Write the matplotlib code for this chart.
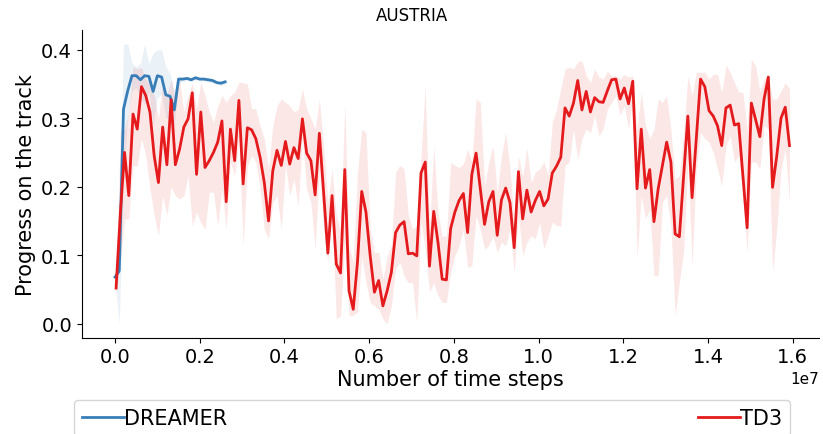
import numpy as np
import matplotlib
matplotlib.use("Agg")
import matplotlib.pyplot as plt

# DREAMER runs: mean progress and the min/max band, one entry per 1e5 steps
dreamer_steps = np.arange(27) * 1e5
dreamer_mean = [0.068, 0.077, 0.313, 0.340, 0.362, 0.362, 0.356, 0.362, 0.361,
                0.339, 0.362, 0.360, 0.334, 0.332, 0.312, 0.357, 0.357, 0.358,
                0.356, 0.359, 0.357, 0.357, 0.356, 0.355, 0.352, 0.351, 0.353]
dreamer_lo = [0.060, 0.000, 0.220, 0.300, 0.340, 0.345, 0.330, 0.320, 0.340,
              0.290, 0.330, 0.335, 0.300, 0.300, 0.290, 0.350, 0.354, 0.355,
              0.353, 0.356, 0.354, 0.354, 0.353, 0.352, 0.349, 0.348, 0.350]
dreamer_hi = [0.075, 0.150, 0.408, 0.408, 0.380, 0.375, 0.380, 0.408, 0.380,
              0.395, 0.400, 0.400, 0.375, 0.365, 0.340, 0.362, 0.360, 0.361,
              0.359, 0.362, 0.360, 0.360, 0.359, 0.358, 0.355, 0.354, 0.356]

# TD3 runs
td3_mean = [
    0.052, 0.160, 0.250, 0.187, 0.306, 0.284, 0.346, 0.333, 0.309, 0.245,
    0.206, 0.287, 0.232, 0.327, 0.232, 0.255, 0.287, 0.299, 0.337, 0.218,
    0.309, 0.228, 0.238, 0.250, 0.265, 0.296, 0.178, 0.284, 0.238, 0.326,
    0.204, 0.286, 0.283, 0.270, 0.243, 0.206, 0.150, 0.223, 0.253, 0.231,
    0.266, 0.233, 0.257, 0.241, 0.299, 0.249, 0.238, 0.188, 0.278, 0.192,
    0.103, 0.187, 0.087, 0.074, 0.225, 0.048, 0.021, 0.090, 0.193, 0.163,
    0.099, 0.046, 0.063, 0.026, 0.048, 0.075, 0.133, 0.144, 0.149, 0.102,
    0.103, 0.099, 0.220, 0.236, 0.084, 0.164, 0.119, 0.065, 0.064, 0.139,
    0.163, 0.180, 0.190, 0.133, 0.218, 0.249, 0.197, 0.145, 0.178, 0.193,
    0.129, 0.181, 0.198, 0.177, 0.111, 0.222, 0.153, 0.195, 0.163, 0.180,
    0.193, 0.172, 0.182, 0.220, 0.230, 0.243, 0.315, 0.303, 0.322, 0.355,
    0.312, 0.339, 0.309, 0.330, 0.324, 0.323, 0.340, 0.356, 0.357, 0.328,
    0.344, 0.321, 0.354, 0.197, 0.284, 0.198, 0.225, 0.149, 0.197, 0.231,
    0.265, 0.236, 0.131, 0.127, 0.216, 0.303, 0.184, 0.270, 0.357, 0.346,
    0.311, 0.303, 0.289, 0.260, 0.315, 0.319, 0.290, 0.292, 0.216, 0.140,
    0.322, 0.298, 0.273, 0.328, 0.360, 0.199, 0.245, 0.300, 0.316, 0.260,
]
td3_lo = [
    0.045, 0.090, 0.153, 0.153, 0.231, 0.230, 0.270, 0.245, 0.197, 0.158,
    0.128, 0.187, 0.158, 0.200, 0.187, 0.182, 0.187, 0.216, 0.143, 0.163,
    0.148, 0.138, 0.192, 0.192, 0.143, 0.197, 0.138, 0.236, 0.216, 0.270,
    0.114, 0.231, 0.245, 0.236, 0.197, 0.138, 0.124, 0.177, 0.187, 0.138,
    0.231, 0.187, 0.211, 0.172, 0.270, 0.197, 0.177, 0.109, 0.226, 0.138,
    0.090, 0.158, 0.007, 0.012, 0.119, 0.012, 0.012, 0.017, 0.099, 0.060,
    0.031, 0.026, 0.021, 0.007, 0.000, 0.026, 0.080, 0.090, 0.070, 0.060,
    0.060, 0.002, 0.148, 0.109, 0.046, 0.060, 0.041, 0.031, 0.031, 0.075,
    0.099, 0.114, 0.138, 0.082, 0.085, 0.158, 0.138, 0.109, 0.114, 0.128,
    0.104, 0.119, 0.114, 0.138, 0.075, 0.158, 0.099, 0.119, 0.128, 0.124,
    0.148, 0.109, 0.128, 0.148, 0.143, 0.143, 0.231, 0.236, 0.284, 0.240,
    0.270, 0.284, 0.279, 0.304, 0.274, 0.284, 0.313, 0.323, 0.333, 0.304,
    0.318, 0.284, 0.333, 0.094, 0.187, 0.153, 0.167, 0.070, 0.070, 0.177,
    0.187, 0.143, 0.012, 0.060, 0.104, 0.236, 0.084, 0.226, 0.279, 0.270,
    0.265, 0.250, 0.226, 0.201, 0.260, 0.274, 0.236, 0.245, 0.187, 0.104,
    0.236, 0.236, 0.226, 0.289, 0.284, 0.075, 0.138, 0.226, 0.255, 0.177,
]
td3_hi = [
    0.060, 0.280, 0.284, 0.309, 0.374, 0.372, 0.374, 0.357, 0.352, 0.333,
    0.299, 0.352, 0.333, 0.357, 0.328, 0.357, 0.309, 0.333, 0.352, 0.313,
    0.352, 0.333, 0.309, 0.294, 0.318, 0.333, 0.323, 0.333, 0.338, 0.352,
    0.352, 0.350, 0.314, 0.314, 0.289, 0.270, 0.226, 0.289, 0.318, 0.328,
    0.323, 0.318, 0.309, 0.313, 0.343, 0.313, 0.299, 0.284, 0.328, 0.260,
    0.177, 0.226, 0.158, 0.138, 0.321, 0.114, 0.090, 0.221, 0.284, 0.279,
    0.138, 0.104, 0.104, 0.065, 0.099, 0.114, 0.221, 0.231, 0.226, 0.158,
    0.138, 0.143, 0.245, 0.347, 0.138, 0.260, 0.163, 0.128, 0.128, 0.236,
    0.231, 0.228, 0.233, 0.255, 0.236, 0.328, 0.323, 0.201, 0.236, 0.260,
    0.192, 0.245, 0.279, 0.226, 0.148, 0.245, 0.216, 0.257, 0.206, 0.221,
    0.226, 0.236, 0.216, 0.294, 0.313, 0.343, 0.372, 0.374, 0.372, 0.382,
    0.384, 0.362, 0.352, 0.372, 0.360, 0.357, 0.369, 0.362, 0.362, 0.357,
    0.364, 0.360, 0.362, 0.284, 0.338, 0.289, 0.270, 0.284, 0.328, 0.323,
    0.333, 0.284, 0.211, 0.216, 0.279, 0.362, 0.333, 0.367, 0.367, 0.367,
    0.357, 0.364, 0.364, 0.338, 0.377, 0.367, 0.352, 0.338, 0.338, 0.284,
    0.386, 0.377, 0.338, 0.357, 0.362, 0.328, 0.328, 0.340, 0.352, 0.343,
]
td3_steps = np.arange(len(td3_mean)) * 1e5 + 2.5e4

BLUE = "#377eb8"
RED = "#e41a1c"

fig = plt.figure(figsize=(8.23, 4.35), dpi=100)
ax = fig.add_axes([0.0993, 0.2214, 0.8959, 0.7069])

ax.fill_between(dreamer_steps, dreamer_lo, dreamer_hi, color=BLUE, alpha=0.1, lw=0)
ax.plot(dreamer_steps, dreamer_mean, color=BLUE, lw=2, label="DREAMER")
ax.fill_between(td3_steps, td3_lo, td3_hi, color=RED, alpha=0.1, lw=0)
ax.plot(td3_steps, td3_mean, color=RED, lw=2, label="TD3")

ax.set_xlim(-7.86e5, 1.6623e7)
ax.set_ylim(-0.0204, 0.4284)
ax.set_xticks(np.arange(0, 1.7e7, 2e6))
ax.set_yticks([0.0, 0.1, 0.2, 0.3, 0.4])
ax.tick_params(labelsize=14)
ax.xaxis.get_offset_text().set_fontsize(11)
for side in ("top", "right"):
    ax.spines[side].set_visible(False)

fig.suptitle("AUSTRIA", fontsize=12, y=0.985)
ax.set_xlabel("Number of time steps", fontsize=15, labelpad=2)
ax.set_ylabel("Progress on the track", fontsize=15)

fig.legend(loc="upper left", bbox_to_anchor=(0.0899, 0.0, 0.870, 0.0789),
           bbox_transform=fig.transFigure, mode="expand", ncol=2,
           borderaxespad=0, fontsize=15, handletextpad=0.0)

fig.savefig("out.png", dpi=100)
